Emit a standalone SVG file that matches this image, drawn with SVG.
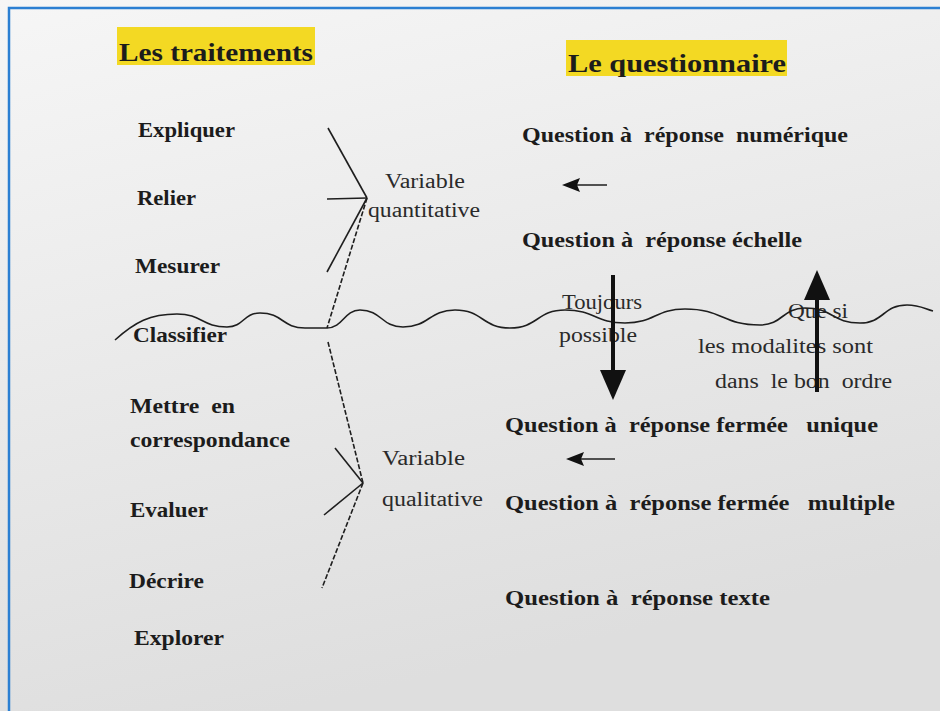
<svg xmlns="http://www.w3.org/2000/svg" width="940" height="711" viewBox="0 0 940 711">
<defs>
<linearGradient id="bg" x1="0" y1="0" x2="0.3" y2="1">
<stop offset="0" stop-color="#f6f6f6"/>
<stop offset="1" stop-color="#dedede"/>
</linearGradient>
<style>
text{white-space:pre}
.b{font-family:"Liberation Serif","Times New Roman",serif;font-weight:bold;font-size:21px;fill:#1c1c1c}
.t{font-family:"Liberation Serif","Times New Roman",serif;font-weight:bold;font-size:26px;fill:#1c1c1c}
.r{font-family:"Liberation Serif","Times New Roman",serif;font-size:20px;fill:#2a2a2a}
.ln{stroke:#1e1e1e;stroke-width:1.6;fill:none}
.ds{stroke:#1e1e1e;stroke-width:1.6;fill:none;stroke-dasharray:5 2}
.hl{fill:#f3d923}
.ar{stroke:#111;stroke-width:4;fill:none}
.ah{fill:#111}
</style>
</defs>
<rect x="0" y="0" width="940" height="711" fill="url(#bg)"/>
<path d="M9,711 V8 H940" stroke="#2b7fd2" stroke-width="2.5" fill="none"/>

<g id="titre-traitements">
<rect class="hl" x="117" y="27" width="198" height="38"/>
<text class="t" x="119" y="61" textLength="194" lengthAdjust="spacingAndGlyphs">Les traitements</text>
</g>
<g id="titre-questionnaire">
<rect class="hl" x="566" y="40" width="221" height="36"/>
<text class="t" x="568" y="72" textLength="218" lengthAdjust="spacingAndGlyphs">Le questionnaire</text>
</g>

<g id="expliquer"><text class="b" x="138" y="137" textLength="97" lengthAdjust="spacingAndGlyphs">Expliquer</text></g>
<g id="relier"><text class="b" x="137" y="205" textLength="59" lengthAdjust="spacingAndGlyphs">Relier</text></g>
<g id="mesurer"><text class="b" x="135" y="273" textLength="85" lengthAdjust="spacingAndGlyphs">Mesurer</text></g>
<g id="classifier"><text class="b" x="133" y="342" textLength="94" lengthAdjust="spacingAndGlyphs">Classifier</text></g>
<g id="mettre">
<text class="b" x="130" y="413" textLength="105" lengthAdjust="spacingAndGlyphs">Mettre  en</text>
<text class="b" x="130" y="447" textLength="160" lengthAdjust="spacingAndGlyphs">correspondance</text>
</g>
<g id="evaluer"><text class="b" x="130" y="517" textLength="78" lengthAdjust="spacingAndGlyphs">Evaluer</text></g>
<g id="decrire"><text class="b" x="129" y="588" textLength="75" lengthAdjust="spacingAndGlyphs">Décrire</text></g>
<g id="explorer"><text class="b" x="134" y="645" textLength="90" lengthAdjust="spacingAndGlyphs">Explorer</text></g>

<g id="var-quantitative">
<text class="r" x="385" y="188" textLength="80" lengthAdjust="spacingAndGlyphs">Variable</text>
<text class="r" x="368" y="217" textLength="112" lengthAdjust="spacingAndGlyphs">quantitative</text>
</g>
<g id="var-qualitative">
<text class="r" x="382" y="465" textLength="83" lengthAdjust="spacingAndGlyphs">Variable</text>
<text class="r" x="382" y="506" textLength="101" lengthAdjust="spacingAndGlyphs">qualitative</text>
</g>

<g id="q-numerique"><text class="b" x="522" y="142" textLength="326" lengthAdjust="spacingAndGlyphs">Question à  réponse  numérique</text></g>
<g id="q-echelle"><text class="b" x="522" y="247" textLength="280" lengthAdjust="spacingAndGlyphs">Question à  réponse échelle</text></g>
<g id="q-unique"><text class="b" x="505" y="432" textLength="373" lengthAdjust="spacingAndGlyphs">Question à  réponse fermée   unique</text></g>
<g id="q-multiple"><text class="b" x="505" y="510" textLength="390" lengthAdjust="spacingAndGlyphs">Question à  réponse fermée   multiple</text></g>
<g id="q-texte"><text class="b" x="505" y="605" textLength="265" lengthAdjust="spacingAndGlyphs">Question à  réponse texte</text></g>

<g id="note-toujours">
<text class="r" x="562" y="309" textLength="80" lengthAdjust="spacingAndGlyphs">Toujours</text>
<text class="r" x="559" y="342" textLength="78" lengthAdjust="spacingAndGlyphs">possible</text>
</g>
<g id="note-que-si">
<text class="r" x="788" y="318" textLength="60" lengthAdjust="spacingAndGlyphs">Que si</text>
<text class="r" x="698" y="353" textLength="175" lengthAdjust="spacingAndGlyphs">les modalites sont</text>
<text class="r" x="715" y="388" textLength="177" lengthAdjust="spacingAndGlyphs">dans  le bon  ordre</text>
</g>

<g id="connecteurs">
<path class="ln" d="M115,340 C135,322 150,314 177,314 C202,314 202,327 227,327 C244,327 243,313 260,313 C283,313 282,328 305,328 L327,328 C343,328 344,310 360,310 C382,310 381,327 403,327 C429,327 429,310 455,310 C483,310 482,328 510,328 C538,328 537,310 565,310 C595,310 595,323 625,323 C655,323 655,309 685,309 C723,309 722,325 760,325 C783,325 782,308 805,308 C833,308 832,323 860,323 C884,323 883,305 907,305 C920,305 925,309 933,311"/>
<line class="ln" x1="328" y1="128" x2="367" y2="198"/>
<line class="ln" x1="327" y1="199" x2="367" y2="198"/>
<line class="ln" x1="367" y1="198" x2="327" y2="272"/>
<line class="ds" x1="367" y1="198" x2="327" y2="328"/>
<line class="ds" x1="328" y1="342" x2="363" y2="483"/>
<line class="ln" x1="335" y1="448" x2="363" y2="483"/>
<line class="ln" x1="324" y1="515" x2="363" y2="483"/>
<line class="ds" x1="363" y1="483" x2="322" y2="588"/>
<line class="ln" stroke-width="2.2" x1="607" y1="185" x2="572" y2="185"/>
<polygon class="ah" points="562,185 580,178 577,185 580,192"/>
<line class="ln" stroke-width="2.2" x1="615" y1="459" x2="576" y2="459"/>
<polygon class="ah" points="566,459 584,452 581,459 584,466"/>
<line class="ar" x1="613" y1="275" x2="613" y2="372"/>
<polygon class="ah" points="600,370 626,370 613,400"/>
<line class="ar" x1="817" y1="392" x2="817" y2="298"/>
<polygon class="ah" points="804,300 830,300 817,270"/>
</g>
</svg>
